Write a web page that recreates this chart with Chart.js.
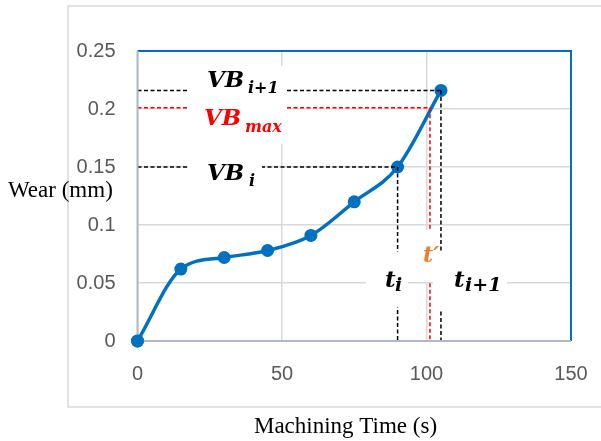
<!DOCTYPE html>
<html>
<head>
<meta charset="utf-8">
<script src="https://cdn.jsdelivr.net/npm/chart.js@4"></script>
<style>
  html, body { margin: 0; padding: 0; background: #ffffff; }
  #wrap { width: 601px; height: 441px; position: relative; }
</style>
</head>
<body>
<div id="wrap"><canvas id="c" width="601" height="441"></canvas></div>
<script>
// ---- data ----
const times = [0, 15, 30, 45, 60, 75, 90, 105];
const wear = [0, 0.062, 0.072, 0.078, 0.091, 0.12, 0.15, 0.216];
const xTicks = [0, 50, 100, 150];
const yTicks = [0, 0.05, 0.1, 0.15, 0.2, 0.25];
const vbMax = 0.201;      // maximum allowed flank wear (red line)
const tPrime = 101.2;     // time at which VBmax is reached
const xTitle = 'Machining Time (s)';
const yTitle = 'Wear (mm)';

const BLUE = '#0070C0';
const SERIF = '"Liberation Serif", "Times New Roman", serif';
const MATH = '"DejaVu Serif", serif';

// white label boxes (pixels) that interrupt lines and gridlines
const boxes = [
  [187, 66, 287, 144],
  [188, 150, 262, 196],
  [366, 252, 408, 307],
  [414, 230, 439, 282],
  [433, 253, 507, 310]
];
// math-style labels: [main, sub, x, baseline, subX, subBaseline, color, mainSize, subSize]
const labels = [
  ['VB', 'i+1', 207, 87, 248, 93, '#000000', 23, 16],
  ['VB', 'max', 204, 125, 245, 132, '#FF0000', 23, 16],
  ['VB', 'i', 207, 180, 249, 186, '#000000', 23, 16],
  ['t\u2032', '', 423, 262, 0, 0, '#ED7D31', 22, 15],
  ['t', '', 385, 287, 0, 0, '#000000', 23, 18],
  ['i', '', 395, 291, 0, 0, '#000000', 19, 18],
  ['t', '', 454, 287, 0, 0, '#000000', 23, 18],
  ['i+1', '', 465, 291, 0, 0, '#000000', 19, 18]
];

const decor = {
  id: 'decor',
  beforeDraw(chart) {
    const ctx = chart.ctx;
    ctx.save();
    ctx.fillStyle = '#ffffff';
    ctx.fillRect(0, 0, chart.width, chart.height);
    ctx.strokeStyle = '#D9D9D9';
    ctx.lineWidth = 1.5;
    ctx.strokeRect(68, 6, 560, 401);
    ctx.restore();
  },
  afterDatasetsDraw(chart) {
    const ctx = chart.ctx;
    const xs = chart.scales.x, ys = chart.scales.y;
    const X = v => xs.getPixelForValue(v), Y = v => ys.getPixelForValue(v);
    ctx.save();
    ctx.lineWidth = 1.5;
    ctx.setLineDash([4, 2.5]);
    const seg = (x1, y1, x2, y2, c) => {
      ctx.strokeStyle = c; ctx.beginPath(); ctx.moveTo(x1, y1); ctx.lineTo(x2, y2); ctx.stroke();
    };
    const n = times.length - 1;
    // VB_{i+1}, t_{i+1}
    seg(X(0), Y(wear[n]), X(times[n]), Y(wear[n]), '#000');
    seg(X(times[n]), Y(wear[n]), X(times[n]), Y(0), '#000');
    // VB_i, t_i
    seg(X(0), Y(wear[n - 1]), X(times[n - 1]), Y(wear[n - 1]), '#000');
    seg(X(times[n - 1]), Y(wear[n - 1]), X(times[n - 1]), Y(0), '#000');
    // VB_max, t'
    seg(X(0), Y(vbMax), X(tPrime), Y(vbMax), '#FF0000');
    seg(X(tPrime), Y(vbMax), X(tPrime), Y(0), '#FF0000');
    ctx.setLineDash([]);
    ctx.fillStyle = '#ffffff';
    boxes.forEach(b => ctx.fillRect(b[0], b[1], b[2] - b[0], b[3] - b[1]));
    ctx.textBaseline = 'alphabetic';
    ctx.textAlign = 'left';
    labels.forEach(l => {
      ctx.fillStyle = l[6];
      ctx.font = 'italic bold ' + l[7] + 'px ' + MATH;
      ctx.fillText(l[0], l[2], l[3]);
      if (l[1]) {
        ctx.font = 'italic bold ' + l[8] + 'px ' + MATH;
        ctx.fillText(l[1], l[4], l[5]);
      }
    });
    ctx.restore();
  },
  afterDraw(chart) {
    const ctx = chart.ctx;
    const a = chart.chartArea;
    ctx.save();
    ctx.lineWidth = 2;
    ctx.strokeStyle = BLUE;
    ctx.beginPath();
    ctx.moveTo(a.left, a.top); ctx.lineTo(a.right, a.top); ctx.lineTo(a.right, a.bottom);
    ctx.stroke();
    ctx.strokeStyle = '#ADB9CA';
    ctx.beginPath();
    ctx.moveTo(a.left, a.top); ctx.lineTo(a.left, a.bottom); ctx.lineTo(a.right, a.bottom);
    ctx.stroke();
    const p = chart.getDatasetMeta(0).data[0];
    ctx.fillStyle = BLUE;
    ctx.beginPath(); ctx.arc(p.x, p.y, 6.5, 0, Math.PI * 2); ctx.fill();
    ctx.fillStyle = '#000000';
    ctx.font = '23px ' + SERIF;
    ctx.textBaseline = 'alphabetic';
    ctx.textAlign = 'left';
    ctx.fillText(yTitle, 8, 197);
    ctx.textAlign = 'center';
    ctx.fillText(xTitle, 345.5, 433);
    ctx.restore();
  }
};

new Chart(document.getElementById('c'), {
  type: 'line',
  data: {
    datasets: [{
      data: times.map((t, i) => ({ x: t, y: wear[i] })),
      borderColor: BLUE,
      backgroundColor: BLUE,
      borderWidth: 3.5,
      pointRadius: 6.5,
      pointHoverRadius: 6.5,
      pointBackgroundColor: BLUE,
      pointBorderWidth: 0,
      tension: 0.4,
      cubicInterpolationMode: 'monotone',
      fill: false,
      clip: false
    }]
  },
  options: {
    responsive: false,
    animation: false,
    events: [],
    layout: { padding: { left: 0, top: 51, right: 30, bottom: 0 } },
    plugins: { legend: { display: false }, tooltip: { enabled: false }, title: { display: false } },
    scales: {
      x: {
        type: 'linear', min: 0, max: 150,
        afterBuildTicks: s => { s.ticks = xTicks.map(v => ({ value: v })); },
        afterFit: s => { s.height = 100; s.paddingLeft = 0; s.paddingRight = 0; },
        grid: { color: '#D9D9D9', lineWidth: 1.5, drawTicks: false },
        border: { display: false },
        ticks: { color: '#595959', font: { family: '"Liberation Sans", Arial, sans-serif', size: 20 }, padding: 21, maxRotation: 0,
          callback: v => String(v) }
      },
      y: {
        type: 'linear', min: 0, max: 0.25,
        afterBuildTicks: s => { s.ticks = yTicks.map(v => ({ value: v })); },
        afterFit: s => { s.width = 137.5; s.paddingTop = 0; s.paddingBottom = 0; },
        grid: { color: '#D9D9D9', lineWidth: 1.5, drawTicks: false },
        border: { display: false },
        ticks: { color: '#595959', font: { family: '"Liberation Sans", Arial, sans-serif', size: 20 }, padding: 22,
          callback: v => String(+v.toFixed(2)) }
      }
    }
  },
  plugins: [decor]
});
</script>
</body>
</html>
